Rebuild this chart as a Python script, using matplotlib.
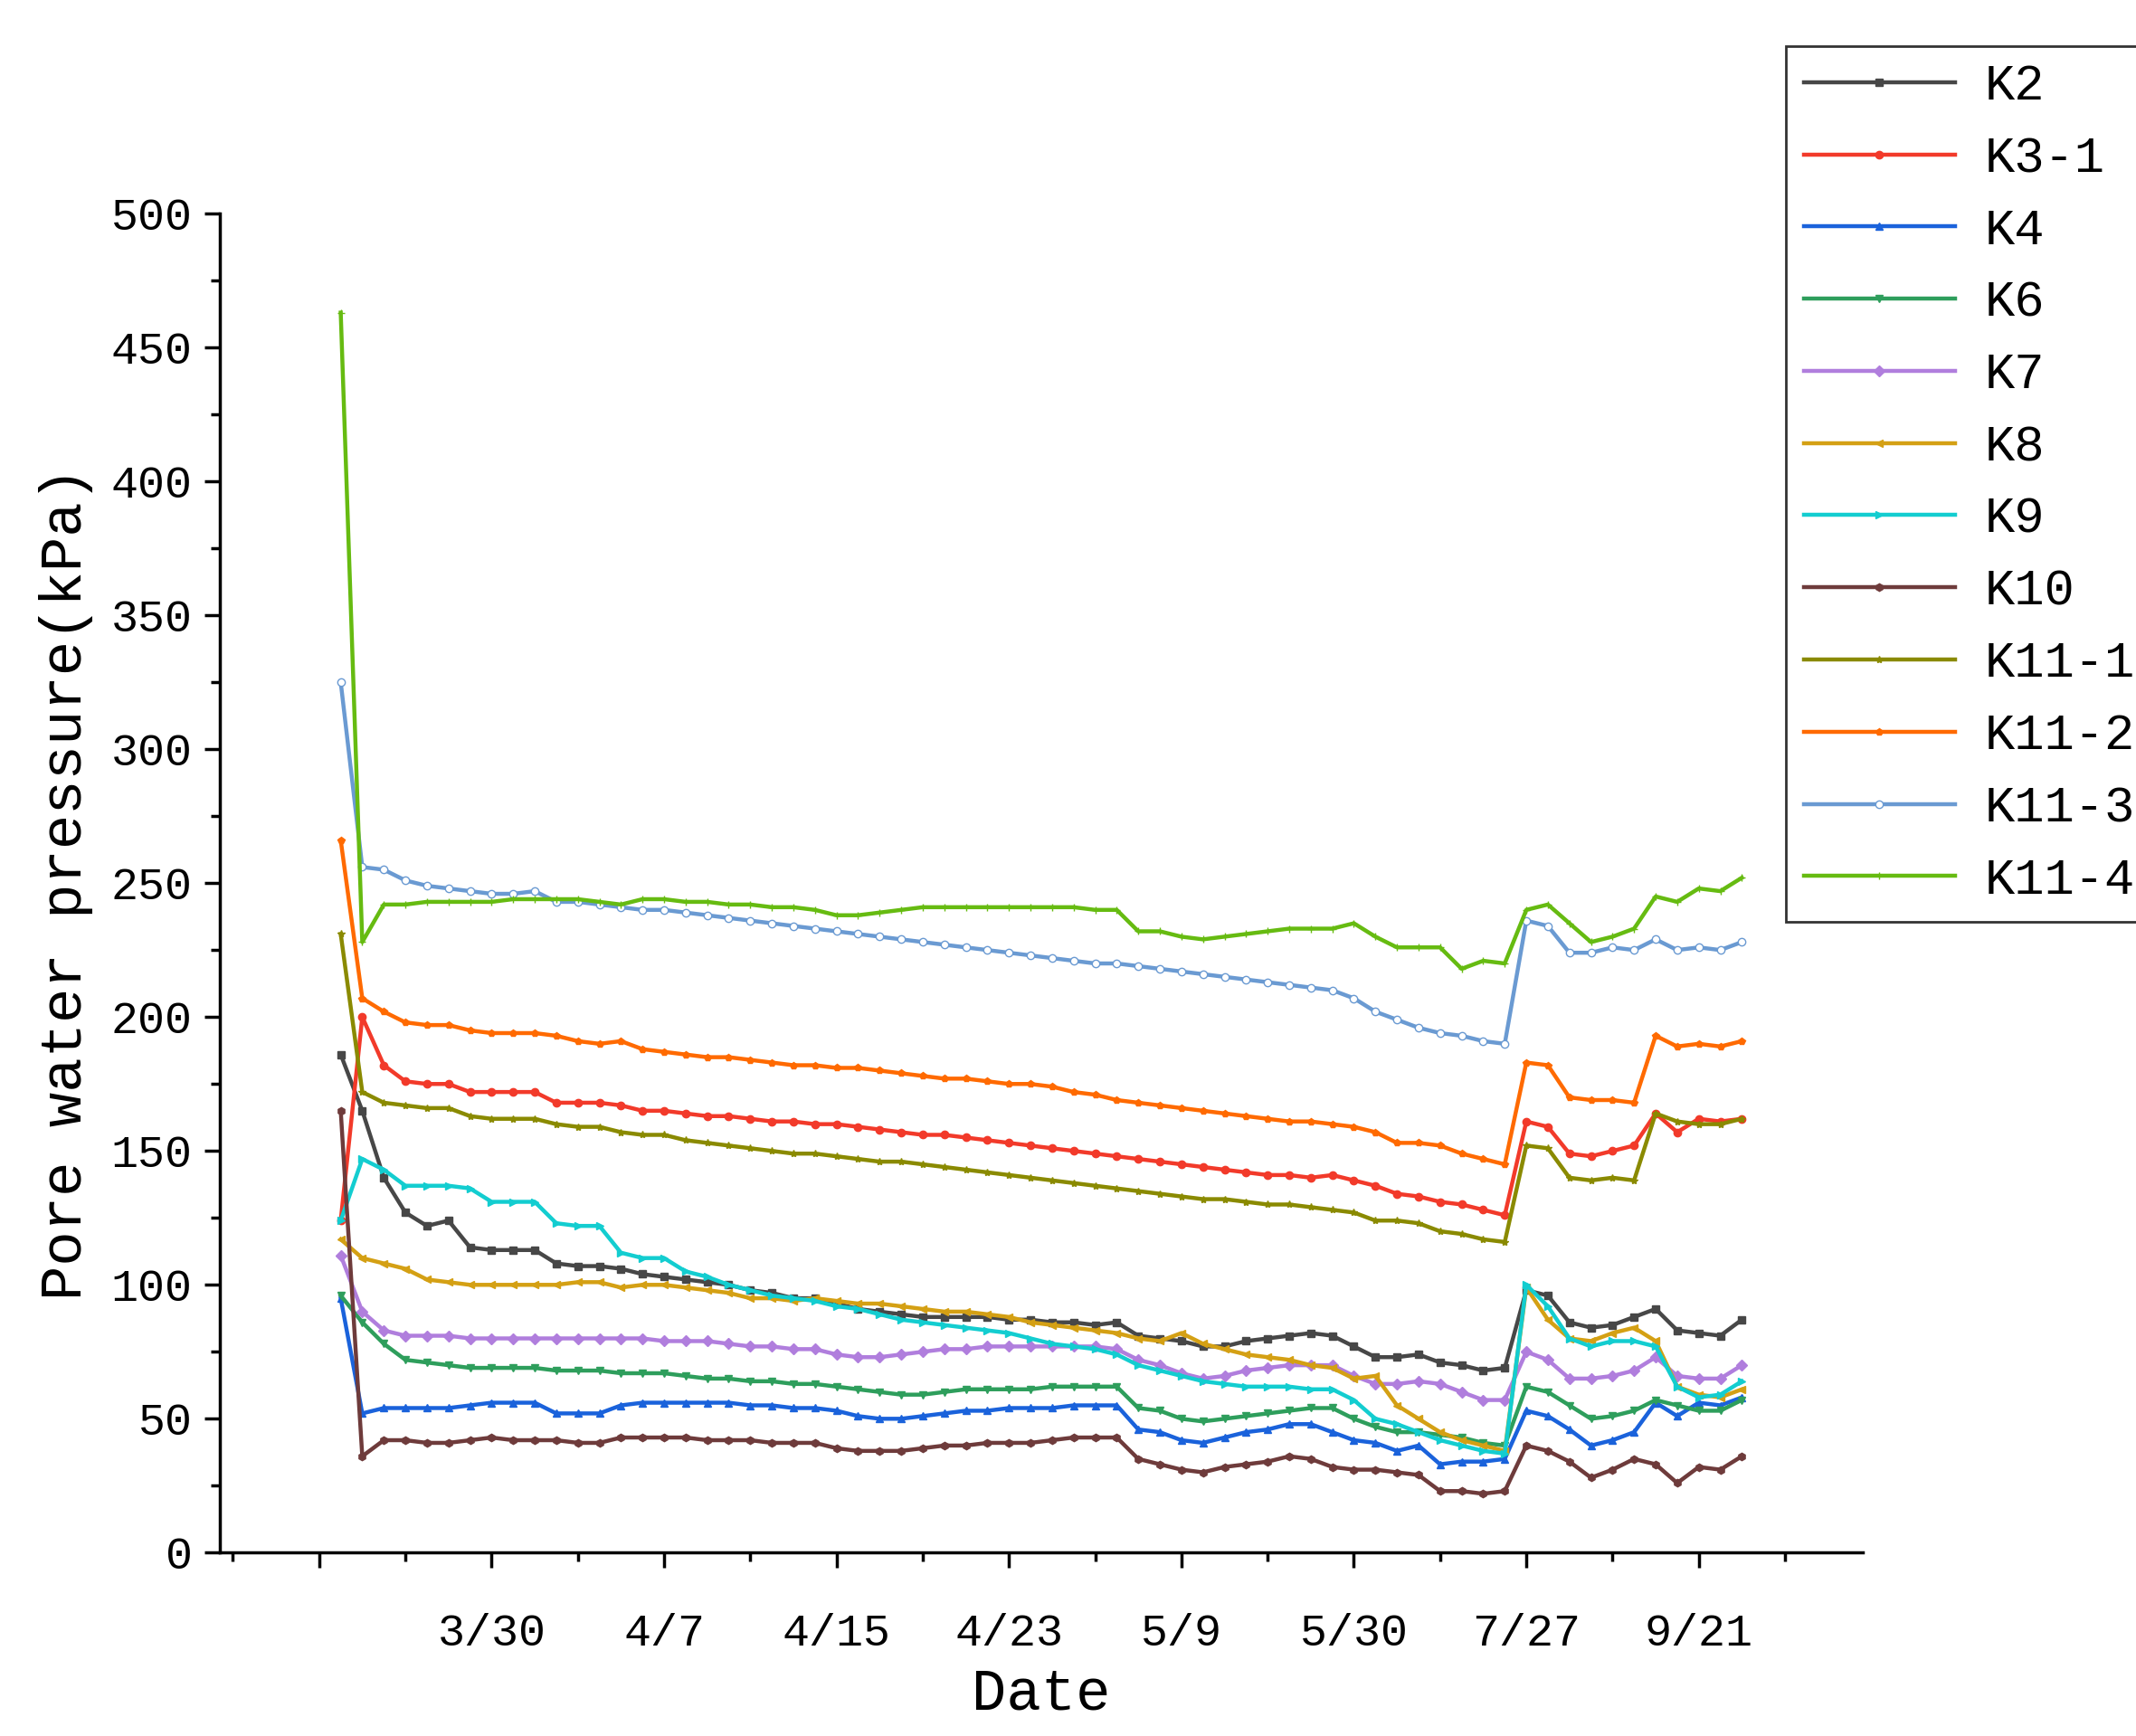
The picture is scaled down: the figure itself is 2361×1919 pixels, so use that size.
import matplotlib
matplotlib.use("Agg")
import matplotlib.pyplot as plt
import numpy as np
from matplotlib.ticker import MultipleLocator

days = list(range(1, 67))
tick_pos = [0, 8, 16, 24, 32, 40, 48, 56, 64]
tick_labels = ["", "3/30", "4/7", "4/15", "4/23", "5/9", "5/30", "7/27", "9/21"]

K2 = [186,165,140,127,122,124,114,113,113,113,108,107,107,106,104,103,102,101,100,98,97,95,95,93,91,90,89,88,88,88,88,87,87,86,86,85,86,81,80,79,77,77,79,80,81,82,81,77,73,73,74,71,70,68,69,98,96,86,84,85,88,91,83,82,81,87]
K3_1 = [124,200,182,176,175,175,172,172,172,172,168,168,168,167,165,165,164,163,163,162,161,161,160,160,159,158,157,156,156,155,154,153,152,151,150,149,148,147,146,145,144,143,142,141,141,140,141,139,137,134,133,131,130,128,126,161,159,149,148,150,152,164,157,162,161,162]
K4 = [95,52,54,54,54,54,55,56,56,56,52,52,52,55,56,56,56,56,56,55,55,54,54,53,51,50,50,51,52,53,53,54,54,54,55,55,55,46,45,42,41,43,45,46,48,48,45,42,41,38,40,33,34,34,35,53,51,46,40,42,45,56,51,56,55,58]
K6 = [96,86,78,72,71,70,69,69,69,69,68,68,68,67,67,67,66,65,65,64,64,63,63,62,61,60,59,59,60,61,61,61,61,62,62,62,62,54,53,50,49,50,51,52,53,54,54,50,47,45,45,44,43,41,40,62,60,55,50,51,53,57,55,53,53,57]
K7 = [111,90,83,81,81,81,80,80,80,80,80,80,80,80,80,79,79,79,78,77,77,76,76,74,73,73,74,75,76,76,77,77,77,77,77,77,76,72,70,67,65,66,68,69,70,70,70,66,63,63,64,63,60,57,57,75,72,65,65,66,68,73,66,65,65,70]
K8 = [117,110,108,106,102,101,100,100,100,100,100,101,101,99,100,100,99,98,97,95,95,94,95,94,93,93,92,91,90,90,89,88,86,85,84,83,82,80,79,82,78,76,74,73,72,70,69,65,66,55,50,45,42,40,38,99,87,80,79,82,84,79,62,59,58,61]
K9 = [124,147,143,137,137,137,136,131,131,131,123,122,122,112,110,110,105,103,100,98,96,95,94,92,91,89,87,86,85,84,83,82,80,78,77,76,74,70,68,66,64,63,62,62,62,61,61,57,50,48,45,42,40,38,37,100,92,80,77,79,79,77,62,58,59,64]
K10 = [165,36,42,42,41,41,42,43,42,42,42,41,41,43,43,43,43,42,42,42,41,41,41,39,38,38,38,39,40,40,41,41,41,42,43,43,43,35,33,31,30,32,33,34,36,35,32,31,31,30,29,23,23,22,23,40,38,34,28,31,35,33,26,32,31,36]
K11_1 = [231,172,168,167,166,166,163,162,162,162,160,159,159,157,156,156,154,153,152,151,150,149,149,148,147,146,146,145,144,143,142,141,140,139,138,137,136,135,134,133,132,132,131,130,130,129,128,127,124,124,123,120,119,117,116,152,151,140,139,140,139,164,161,160,160,162]
K11_2 = [266,207,202,198,197,197,195,194,194,194,193,191,190,191,188,187,186,185,185,184,183,182,182,181,181,180,179,178,177,177,176,175,175,174,172,171,169,168,167,166,165,164,163,162,161,161,160,159,157,153,153,152,149,147,145,183,182,170,169,169,168,193,189,190,189,191]
K11_3 = [325,256,255,251,249,248,247,246,246,247,243,243,242,241,240,240,239,238,237,236,235,234,233,232,231,230,229,228,227,226,225,224,223,222,221,220,220,219,218,217,216,215,214,213,212,211,210,207,202,199,196,194,193,191,190,236,234,224,224,226,225,229,225,226,225,228]
K11_4 = [463,228,242,242,243,243,243,243,244,244,244,244,243,242,244,244,243,243,242,242,241,241,240,238,238,239,240,241,241,241,241,241,241,241,241,240,240,232,232,230,229,230,231,232,233,233,233,235,230,226,226,226,218,221,220,240,242,235,228,230,233,245,243,248,247,252]

series = [
    ("K2", K2, "#474747", "s"),
    ("K3-1", K3_1, "#F23A2A", "o"),
    ("K4", K4, "#1A62DB", "^"),
    ("K6", K6, "#2E9E5C", "v"),
    ("K7", K7, "#B07EDD", "D"),
    ("K8", K8, "#D4A014", "<"),
    ("K9", K9, "#13CDD0", ">"),
    ("K10", K10, "#6E3B3B", "h"),
    ("K11-1", K11_1, "#8A8A00", "*"),
    ("K11-2", K11_2, "#FF6A00", "p"),
    ("K11-3", K11_3, "#6A9AD2", "o"),
    ("K11-4", K11_4, "#66BB11", "+"),
]

plt.rcParams['font.family'] = ['Liberation Mono', 'DejaVu Sans Mono']
fig = plt.figure(figsize=(23.61, 19.19), dpi=100)
ax = fig.add_axes([0.103, 0.1056, 0.769, 0.7714])
for name, vals, c, m in series:
    mfc = "white" if name == "K11-3" else c
    ax.plot(days, vals, color=c, marker=m, markersize=6, mfc=mfc, mec=c,
            linewidth=3.2, label=name)

ax.set_xlim(-4.6, 71.6)
ax.set_ylim(0, 500)
ax.set_xticks(tick_pos)
ax.set_xticklabels(tick_labels)
ax.xaxis.set_minor_locator(MultipleLocator(4))
ax.yaxis.set_major_locator(MultipleLocator(50))
ax.yaxis.set_minor_locator(MultipleLocator(25))
for s in ["top", "right"]:
    ax.spines[s].set_visible(False)
for s in ["left", "bottom"]:
    ax.spines[s].set_linewidth(2.5)
ax.tick_params(which="major", length=12, width=2.5, labelsize=36, pad=10)
ax.tick_params(which="minor", length=7, width=2.5)
ax.tick_params(axis="x", which="major", pad=36)
ax.set_xlabel("Date", fontsize=46, labelpad=10)
ax.set_ylabel("Pore water pressure(kPa)", fontsize=46, labelpad=14)

leg = fig.legend(loc="upper left", bbox_to_anchor=(0.8245, 0.988), fontsize=40,
                 frameon=True, fancybox=False, edgecolor="black", handlelength=3.0,
                 labelspacing=0.5, borderpad=0.35, handletextpad=0.6)
leg.get_frame().set_linewidth(2)
fig.savefig("out.png", dpi=100)
